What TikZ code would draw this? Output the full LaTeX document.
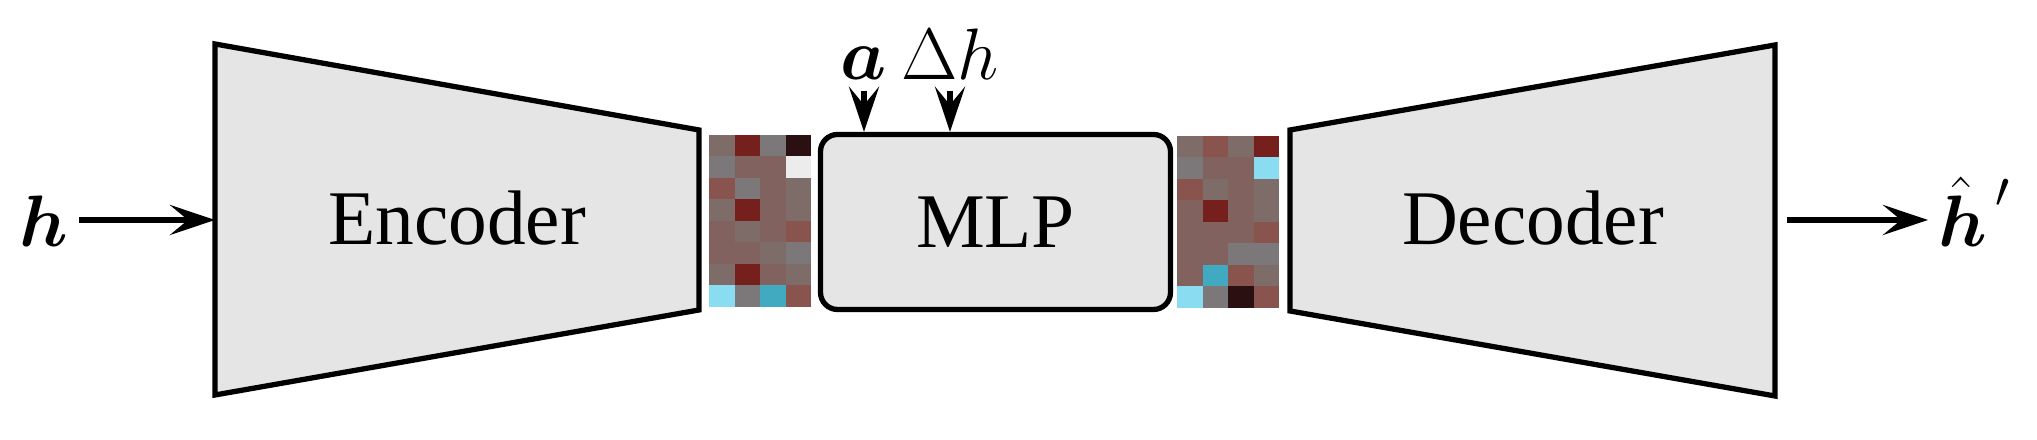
\documentclass[tikz,border=0pt]{standalone}
\usepackage{bm}
\usepackage{fontspec}
\setmainfont{Liberation Serif}
\usetikzlibrary{arrows.meta}
\definecolor{cA}{RGB}{126,108,105}
\definecolor{cB}{RGB}{129,98,94}
\definecolor{cC}{RGB}{138,84,78}
\definecolor{cD}{RGB}{118,32,30}
\definecolor{cE}{RGB}{42,16,16}
\definecolor{cF}{RGB}{124,120,122}
\definecolor{cG}{RGB}{236,236,236}
\definecolor{cH}{RGB}{138,220,240}
\definecolor{cI}{RGB}{66,170,192}
\tikzset{
    block/.style={draw,line width=1.5pt,fill=black!10},
    lbl/.style={font=\fontsize{22}{26}\selectfont,inner sep=0.1cm},
    arr/.style={line width=1.8pt,-{Stealth[length=4.5mm,width=3mm,inset=1.8mm]}}
}
\begin{document}
\begin{tikzpicture}
    \useasboundingbox (0,0) rectangle (20.37,4.40);
    \draw[block] (2.15,0.45) -- (2.15,3.96) -- (6.99,3.10) -- (6.99,1.30) -- cycle;
    \coordinate (enc-in) at (2.15,2.20);
    \node[lbl,anchor=base] (enc) at (4.57,1.95) {Encoder};
    \draw[block] (12.90,1.29) -- (12.90,3.10) -- (17.75,3.95) -- (17.75,0.44) -- cycle;
    \coordinate (dec-out) at (17.87,2.20);
    \node[lbl,anchor=base] (dec) at (15.33,1.95) {Decoder};
    \node[block,lbl,rounded corners=0.17cm,minimum width=3.50cm,minimum height=1.75cm]
        (mlp) at (9.955,2.18) {MLP};
    \begin{scope}[shift={(7.09,1.33)}]
        \foreach \row [count=\r] in {{cA,cD,cF,cE},{cF,cB,cB,cG},{cC,cF,cB,cA},{cA,cD,cB,cA},
                                     {cB,cA,cB,cC},{cB,cB,cA,cF},{cA,cD,cB,cA},{cH,cF,cI,cC}}
            \foreach \c [count=\k] in \row
                \fill[\c] ({(\k-1)*0.255},{(8-\r)*0.215}) rectangle +(0.255,0.215);
    \end{scope}
    \begin{scope}[shift={(11.77,1.32)}]
        \foreach \row [count=\r] in {{cA,cC,cA,cD},{cF,cB,cB,cH},{cC,cA,cB,cA},{cB,cD,cB,cA},
                                     {cB,cB,cB,cC},{cB,cB,cF,cF},{cB,cI,cC,cA},{cH,cF,cE,cC}}
            \foreach \c [count=\k] in \row
                \fill[\c] ({(\k-1)*0.255},{(8-\r)*0.215}) rectangle +(0.255,0.215);
    \end{scope}
    \node[lbl,anchor=base] (hin) at (0.435,1.93) {$\bm{h}$};
    \node[lbl,anchor=base] (a) at (8.64,3.60) {$\bm{a}$};
    \node[lbl,anchor=base] (dh) at (9.50,3.60) {$\Delta h$};
    \node[lbl,anchor=base west] (hout) at (19.28,1.93)
        {${\hat{\bm{h}}}^{\,\raisebox{0.13cm}{$\scriptstyle\prime$}}$};
    \draw[arr] (hin.east |- enc-in) -- (enc-in);
    \draw[arr] (a.south) -- (a.south |- mlp.north);
    \draw[arr] (dh.south) -- (dh.south |- mlp.north);
    \draw[arr] (dec-out) -- (dec-out -| hout.west);
\end{tikzpicture}
\end{document}
